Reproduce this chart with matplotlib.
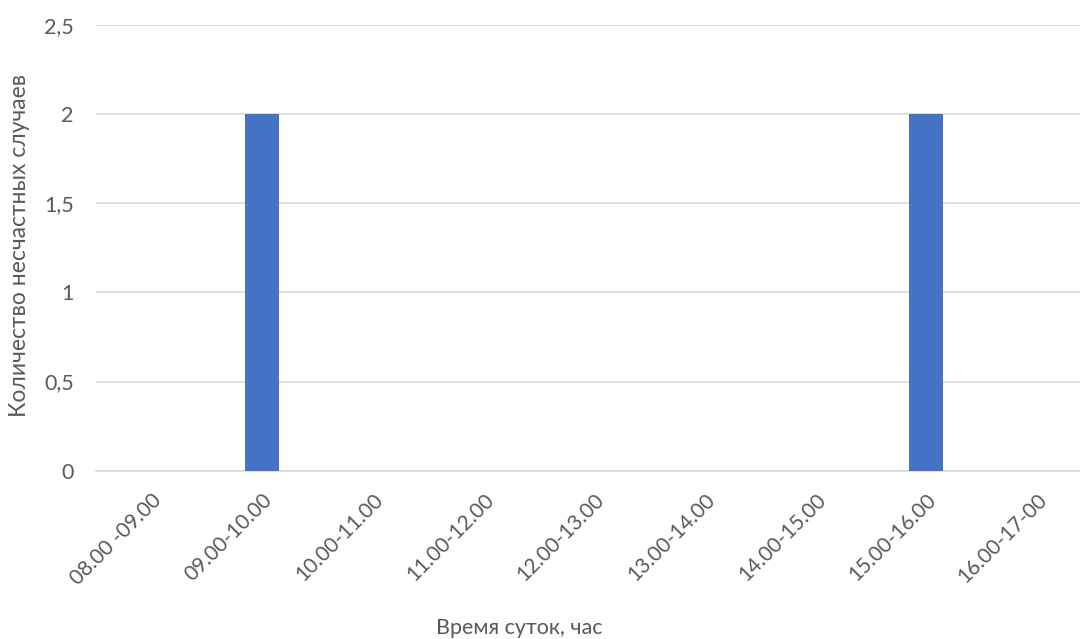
import matplotlib
matplotlib.use("Agg")
import matplotlib.pyplot as plt
import numpy as np

plt.rcParams['font.family'] = ['Lato', 'DejaVu Sans']

categories = ["08.00 -09.00", "09.00-10.00", "10.00-11.00", "11.00-12.00",
              "12.00-13.00", "13.00-14.00", "14.00-15.00", "15.00-16.00",
              "16.00-17-00"]
counts = [0, 2, 0, 0, 0, 0, 0, 2, 0]
y_ticks = [0, 0.5, 1, 1.5, 2, 2.5]
y_tick_labels = ["0", "0,5", "1", "1,5", "2", "2,5"]

W, H = 1080, 639
fig = plt.figure(figsize=(W / 100, H / 100), dpi=100)
left, right, top, bottom = 96, 1092, 24.7, 470.7
ax = fig.add_axes([left / W, 1 - bottom / H, (right - left) / W, (bottom - top) / H])

text_color = "#595959"
grid_color = "#d9d9d9"

x = np.arange(len(categories))
ax.bar(x, counts, width=0.31, color="#4472c4", zorder=3)

ax.set_xlim(-0.5, len(categories) - 0.5)
ax.set_ylim(0, 2.5)
ax.set_yticks(y_ticks)
ax.set_yticklabels(y_tick_labels)
ax.yaxis.grid(True, color=grid_color, linewidth=1.2, zorder=0)
ax.set_axisbelow(True)

for s in ["top", "right", "left"]:
    ax.spines[s].set_visible(False)
ax.spines["bottom"].set_color(grid_color)
ax.spines["bottom"].set_linewidth(1.2)

ax.tick_params(axis="y", length=0, pad=16, labelsize=15.5, labelcolor=text_color)
ax.tick_params(axis="x", length=0, pad=14, labelsize=15, labelcolor=text_color)
ax.set_xticks(x)
ax.set_xticklabels(categories, rotation=45, ha="right", rotation_mode="anchor")

fig.text(20 / W, 1 - 245 / H, "Количество несчастных случаев", rotation=90,
         ha="center", va="center", fontsize=16.5, color=text_color)
fig.text(519 / W, 1 - 628 / H, "Время суток, час",
         ha="center", va="center", fontsize=15.5, color=text_color)

fig.savefig("out.png", dpi=100, facecolor="white")
